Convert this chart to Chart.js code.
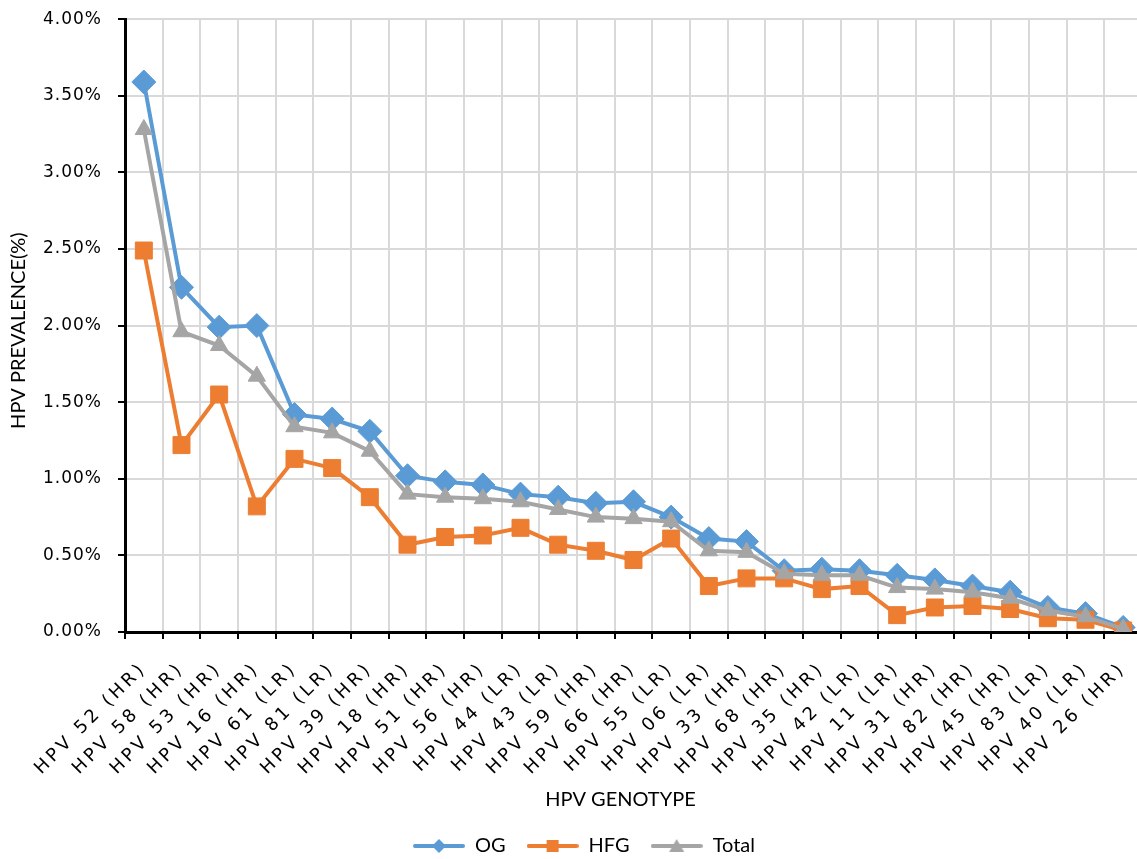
<!DOCTYPE html>
<html>
<head>
<meta charset="utf-8">
<script src="https://cdn.jsdelivr.net/npm/chart.js@4/dist/chart.umd.min.js"></script>
<style>
  html, body { margin: 0; padding: 0; background: #fff; overflow: hidden; }
  #wrap { width: 1137px; height: 859px; overflow: hidden; }
  canvas { display: block; margin-top: -7px; }
</style>
</head>
<body>
<div id="wrap"><canvas id="hpvChart" width="1172" height="873"></canvas></div>
<script>
const genotypes = [
    'HPV 52 (HR)', 'HPV 58 (HR)', 'HPV 53 (HR)', 'HPV 16 (HR)', 'HPV 61 (LR)', 'HPV 81 (LR)',
    'HPV 39 (HR)', 'HPV 18 (HR)', 'HPV 51 (HR)', 'HPV 56 (HR)', 'HPV 44 (LR)', 'HPV 43 (LR)',
    'HPV 59 (HR)', 'HPV 66 (HR)', 'HPV 55 (LR)', 'HPV 06 (LR)', 'HPV 33 (HR)', 'HPV 68 (HR)',
    'HPV 35 (HR)', 'HPV 42 (LR)', 'HPV 11 (LR)', 'HPV 31 (HR)', 'HPV 82 (HR)', 'HPV 45 (HR)',
    'HPV 83 (LR)', 'HPV 40 (LR)', 'HPV 26 (HR)'
];

// prevalence in percent
const ogValues = [3.59, 2.25, 1.99, 2.00, 1.42, 1.39, 1.31, 1.02, 0.98, 0.96, 0.90, 0.88, 0.84, 0.85,
    0.75, 0.61, 0.59, 0.40, 0.41, 0.40, 0.37, 0.34, 0.30, 0.26, 0.16, 0.12, 0.03];
const hfgValues = [2.49, 1.22, 1.55, 0.82, 1.13, 1.07, 0.88, 0.57, 0.62, 0.63, 0.68, 0.57, 0.53, 0.47,
    0.61, 0.30, 0.35, 0.35, 0.28, 0.30, 0.11, 0.16, 0.17, 0.15, 0.09, 0.08, 0.01];
const totalValues = [3.28, 1.96, 1.87, 1.67, 1.34, 1.30, 1.18, 0.90, 0.88, 0.87, 0.85, 0.80, 0.75, 0.74,
    0.72, 0.53, 0.52, 0.38, 0.37, 0.37, 0.29, 0.28, 0.26, 0.22, 0.14, 0.10, 0.02];

const yMin = 0;
const yMax = 4;
const yStep = 0.5;

const BLUE = '#5B9BD5';
const ORANGE = '#ED7D31';
const GREY = '#A5A5A5';

const titleFont = { family: 'Lato, "Liberation Sans", sans-serif', size: 20 };
const tickFont = { family: '"DejaVu Sans", Verdana, sans-serif', size: 17 };
const xTickFont = { family: '"DejaVu Sans", Verdana, sans-serif', size: 18 };

// legend swatch: line with the marker on top, like the Excel legend
function legendIcon(color, shape) {
    const c = document.createElement('canvas');
    c.width = 52;
    c.height = 22;
    const g = c.getContext('2d');
    g.strokeStyle = color;
    g.fillStyle = color;
    g.lineWidth = 4;
    g.lineCap = 'round';
    g.beginPath();
    g.moveTo(2, 11);
    g.lineTo(50, 11);
    g.stroke();
    g.beginPath();
    if (shape === 'diamond') {
        g.moveTo(26, 4); g.lineTo(33, 11); g.lineTo(26, 18); g.lineTo(19, 11);
    } else if (shape === 'square') {
        g.rect(20, 5, 12, 12);
    } else {
        g.moveTo(26, 4); g.lineTo(33.5, 17); g.lineTo(18.5, 17);
    }
    g.closePath();
    g.fill();
    return c;
}

function patchDraw(box, method, fn) {
    const orig = box[method];
    box[method] = function (...args) {
        const ctx = this.ctx;
        ctx.save();
        fn(ctx);
        orig.apply(this, args);
        ctx.restore();
    };
}

const textTweaks = {
    id: 'textTweaks',
    beforeDraw(chart) {
        const x = chart.scales.x;
        const y = chart.scales.y;
        if (x._tweaked) return;
        x._tweaked = true;
        patchDraw(x, 'drawLabels', ctx => { ctx.letterSpacing = '3.5px'; });
        patchDraw(y, 'drawLabels', ctx => { ctx.letterSpacing = '1px'; });
        patchDraw(x, 'drawTitle', ctx => { ctx.translate(-13, 0); });
        patchDraw(y, 'drawTitle', ctx => { ctx.translate(0, 5); });
        patchDraw(chart.legend, 'draw', ctx => { ctx.translate(13, 0); });
    }
};

const ctx = document.getElementById('hpvChart').getContext('2d');

const hpvChart = new Chart(ctx, {
    type: 'line',
    data: {
        labels: genotypes,
        datasets: [{
            label: 'OG',
            data: ogValues,
            borderColor: BLUE,
            backgroundColor: BLUE,
            pointBackgroundColor: BLUE,
            pointBorderColor: BLUE,
            pointStyle: 'rectRot',
            pointRadius: 12,
            order: 2
        }, {
            label: 'HFG',
            data: hfgValues,
            borderColor: ORANGE,
            backgroundColor: ORANGE,
            pointBackgroundColor: ORANGE,
            pointBorderColor: ORANGE,
            pointStyle: 'rect',
            pointRadius: 12,
            order: 1
        }, {
            label: 'Total',
            data: totalValues,
            borderColor: GREY,
            backgroundColor: GREY,
            pointBackgroundColor: GREY,
            pointBorderColor: GREY,
            pointStyle: 'triangle',
            pointRadius: 10,
            order: 0
        }]
    },
    options: {
        responsive: false,
        animation: false,
        devicePixelRatio: 1,
        layout: {
            padding: { top: 10, right: 30, left: 0, bottom: 0 }
        },
        elements: {
            line: { borderWidth: 4, tension: 0 },
            point: { borderWidth: 1, hoverRadius: 12 }
        },
        plugins: {
            tooltip: { enabled: false },
            legend: {
                position: 'bottom',
                labels: {
                    usePointStyle: true,
                    pointStyleWidth: 52,
                    padding: 21,
                    color: '#000',
                    font: { family: titleFont.family, size: 20 },
                    generateLabels(chart) {
                        const shapes = ['diamond', 'square', 'triangle'];
                        return chart.data.datasets.map((ds, i) => ({
                            text: ds.label,
                            fillStyle: ds.borderColor,
                            strokeStyle: ds.borderColor,
                            lineWidth: 0,
                            fontColor: '#000',
                            pointStyle: legendIcon(ds.borderColor, shapes[i]),
                            hidden: !chart.isDatasetVisible(i),
                            datasetIndex: i
                        }));
                    }
                }
            }
        },
        scales: {
            x: {
                offset: true,
                grid: {
                    offset: true,
                    color: '#D9D9D9',
                    lineWidth: 2,
                    tickColor: '#000',
                    tickWidth: 2,
                    tickLength: 7
                },
                border: { color: '#000', width: 3 },
                ticks: {
                    autoSkip: false,
                    minRotation: 45,
                    maxRotation: 45,
                    padding: 19,
                    color: '#000',
                    font: xTickFont
                },
                title: {
                    display: true,
                    text: 'HPV GENOTYPE',
                    color: '#000',
                    font: titleFont,
                    padding: { top: 0, bottom: 3 }
                },
                afterFit(scale) {
                    scale.height = 183;
                }
            },
            y: {
                min: yMin,
                max: yMax,
                grid: {
                    color: '#D9D9D9',
                    lineWidth: 2,
                    tickColor: '#000',
                    tickWidth: 2,
                    tickLength: 7
                },
                border: { color: '#000', width: 3 },
                ticks: {
                    stepSize: yStep,
                    padding: 16,
                    color: '#000',
                    font: tickFont,
                    callback: v => v.toFixed(2) + '%'
                },
                title: {
                    display: true,
                    text: 'HPV PREVALENCE(%)',
                    color: '#000',
                    font: titleFont,
                    padding: { top: 7, bottom: 0 }
                },
                afterFit(scale) {
                    scale.width = 125;
                }
            }
        }
    },
    plugins: [textTweaks]
});
</script>
</body>
</html>
